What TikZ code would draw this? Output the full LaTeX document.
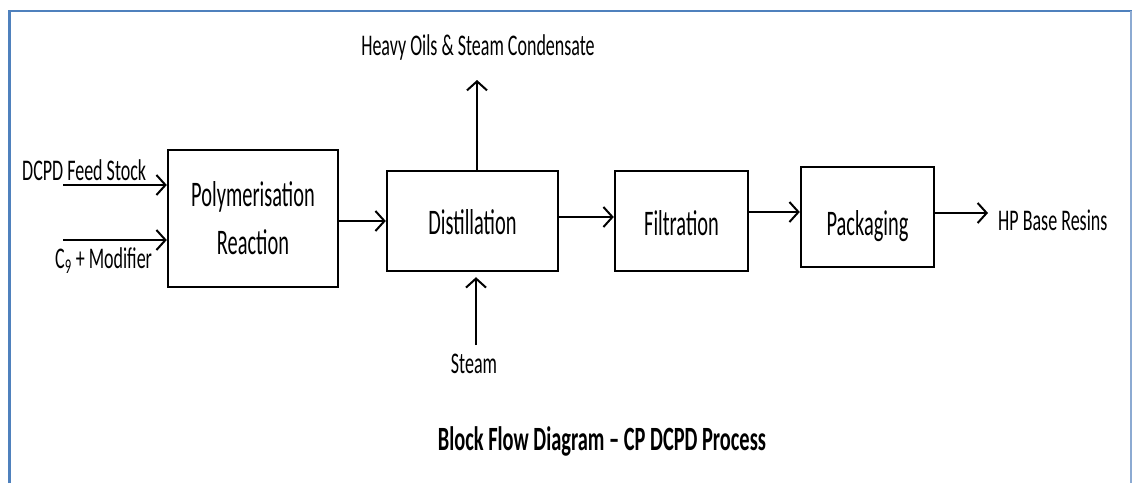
\documentclass[tikz,border=0pt]{standalone}
\usepackage{fontspec}
\setmainfont{Carlito}[FakeStretch=0.6]
\newfontfamily\blockfont{Carlito}[FakeStretch=0.567]
\usetikzlibrary{arrows.meta}
\definecolor{frameblue}{RGB}{79,129,189}
\definecolor{frameedge}{RGB}{140,170,210}
\begin{document}
\begin{tikzpicture}[x=1pt,y=-1pt,
  block/.style={draw, line width=2.4pt, inner sep=0pt, align=center,
    font=\blockfont\fontsize{36}{48}\selectfont},
  % single-line blocks: baseline placed so the capitals sit a little below centre
  oneline/.style={text depth=0pt, text height=#1},
  oneline/.default=26pt,
  flow/.style={line width=2pt, -{Straight Barb[length=9pt,width=20pt]}},
  lbl/.style={inner sep=0pt, font=\fontsize{30}{36}\selectfont},
  heading/.style={inner sep=0pt, font=\bfseries\fontsize{34}{40}\selectfont}]
\useasboundingbox (0,0) rectangle (1132,483);

% page frame
\draw[frameblue, line width=2.5pt] (9.5,483) -- (9.5,11) -- (1132,11);
\draw[frameedge, line width=1.5pt] (1131,11) -- (1131,483);

% process blocks
\node[block, minimum width=170pt, minimum height=137pt] (poly) at (253,218.5) {Polymerisation\\Reaction};
\node[block, oneline=26pt, minimum width=171pt, minimum height=100pt] (dist) at (472.5,221) {Distillation};
\node[block, oneline=28pt, minimum width=133pt, minimum height=100pt] (filt) at (681.5,221) {Filtration};
\node[block, oneline=36pt, minimum width=133pt, minimum height=100pt] (pack) at (867.5,217) {Packaging};

% free stream ends
\coordinate (dcpd) at (63,185);
\coordinate (cnine) at (63,240);
\coordinate (resin) at (988,213);
\coordinate (vapour) at (477,80);
\coordinate (steamin) at (476,345);

% streams
\draw[flow] (dcpd) -- (dcpd -| poly.west);
\draw[flow] (cnine) -- (cnine -| poly.west);
\draw[flow] (poly.east |- dist.west) -- (dist.west);
\draw[flow] ([yshift=4pt]dist.east) -- ([yshift=4pt]dist.east -| filt.west);
\draw[flow] ([yshift=9pt]filt.east) -- ([yshift=9pt]filt.east -| pack.west);
\draw[flow] (pack.east |- resin) -- (resin);
\draw[flow] (vapour |- dist.north) -- (vapour);
\draw[flow, shorten >=5pt] (steamin) -- (steamin |- dist.south);

% stream labels
\node[lbl, anchor=base west] (feedlbl) at (22,180) {DCPD Feed Stock};
\node[lbl, anchor=base west] (c9lbl) at (55,268) {C\textsubscript{9} + Modifier};
\node[lbl, anchor=base] (heavylbl) at (478,55) {Heavy Oils \& Steam Condensate};
\node[lbl, anchor=base] (steamlbl) at (474,373) {Steam};
\node[lbl, anchor=base west] (resinlbl) at (998,230) {HP Base Resins};

% caption
\node[heading, anchor=base] (title) at (602,450) {Block Flow Diagram -- CP DCPD Process};
\end{tikzpicture}
\end{document}
